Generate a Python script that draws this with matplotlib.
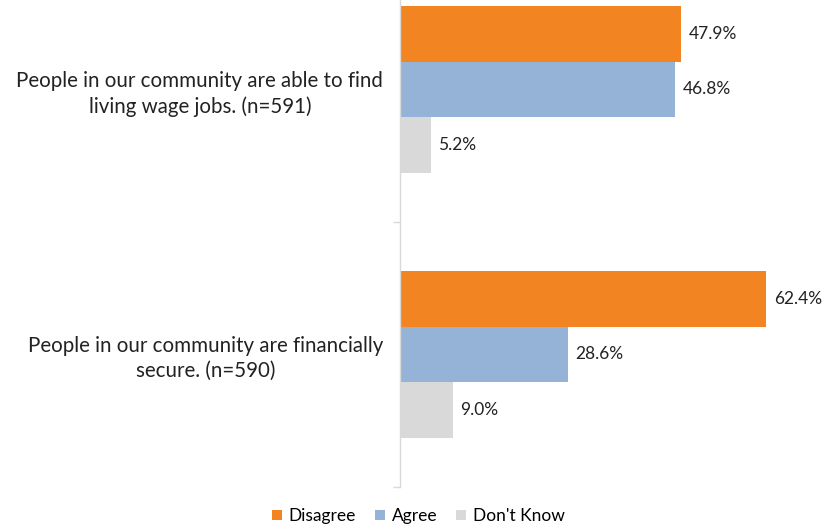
import matplotlib.pyplot as plt
from matplotlib.patches import Patch
import numpy as np

plt.rcParams["font.family"] = ["Lato", "DejaVu Sans"]

# ----------------------------
# Data
# ----------------------------
categories = [
    "People in our community are able to find\nliving wage jobs. (n=591)",
    "People in our community are financially\nsecure. (n=590)",
]
series_names = ["Disagree", "Agree", "Don't Know"]
disagree = [47.9, 62.4]
agree = [46.8, 28.6]
dont_know = [5.2, 9.0]

COLORS = ["#F28522", "#95B3D7", "#D9D9D9"]
AXIS_GRAY = "#D9D9D9"

fig = plt.figure(figsize=(8.37, 5.29), dpi=100)
# axes extends a bit above the figure top, as in the original crop
ax = fig.add_axes([400 / 837, 42 / 529, 411 / 837, 530 / 529])

y = np.arange(len(categories))
h = 0.209
offsets = [-h, 0, h]
for vals, off, col, name in zip([disagree, agree, dont_know], offsets, COLORS, series_names):
    bars = ax.barh(y + off, vals, height=h, color=col, label=name, zorder=2)
    for b, v in zip(bars, vals):
        ax.annotate(f"{v:.1f}%", (b.get_width(), b.get_y() + b.get_height() / 2),
                    xytext=(5.5, 0), textcoords="offset points",
                    ha="left", va="center", fontsize=12.5, color="#222222")

ax.set_xlim(0, 70)
ax.set_ylim(1.5, -0.5)

ax.set_yticks(y)
ax.set_yticklabels(categories, fontsize=14.8, color="#222222", multialignment="center",
                   linespacing=1.3)
ax.tick_params(axis="y", which="major", length=0, pad=12)
ax.set_yticks([-0.5, 0.5, 1.5], minor=True)
ax.tick_params(axis="y", which="minor", length=5, color=AXIS_GRAY, width=1)
ax.set_xticks([])

for s in ["top", "right", "bottom"]:
    ax.spines[s].set_visible(False)
ax.spines["left"].set_color(AXIS_GRAY)
ax.spines["left"].set_linewidth(1)

handles = [Patch(facecolor=c, edgecolor="none", label=n) for c, n in zip(COLORS, series_names)]
fig.legend(handles=handles, loc="center", bbox_to_anchor=(0.5, 13 / 529), ncol=3,
           frameon=False, fontsize=12.5, handlelength=0.55, handleheight=0.55,
           handletextpad=0.4, columnspacing=1.1)

fig.savefig("out.png", dpi=100)
